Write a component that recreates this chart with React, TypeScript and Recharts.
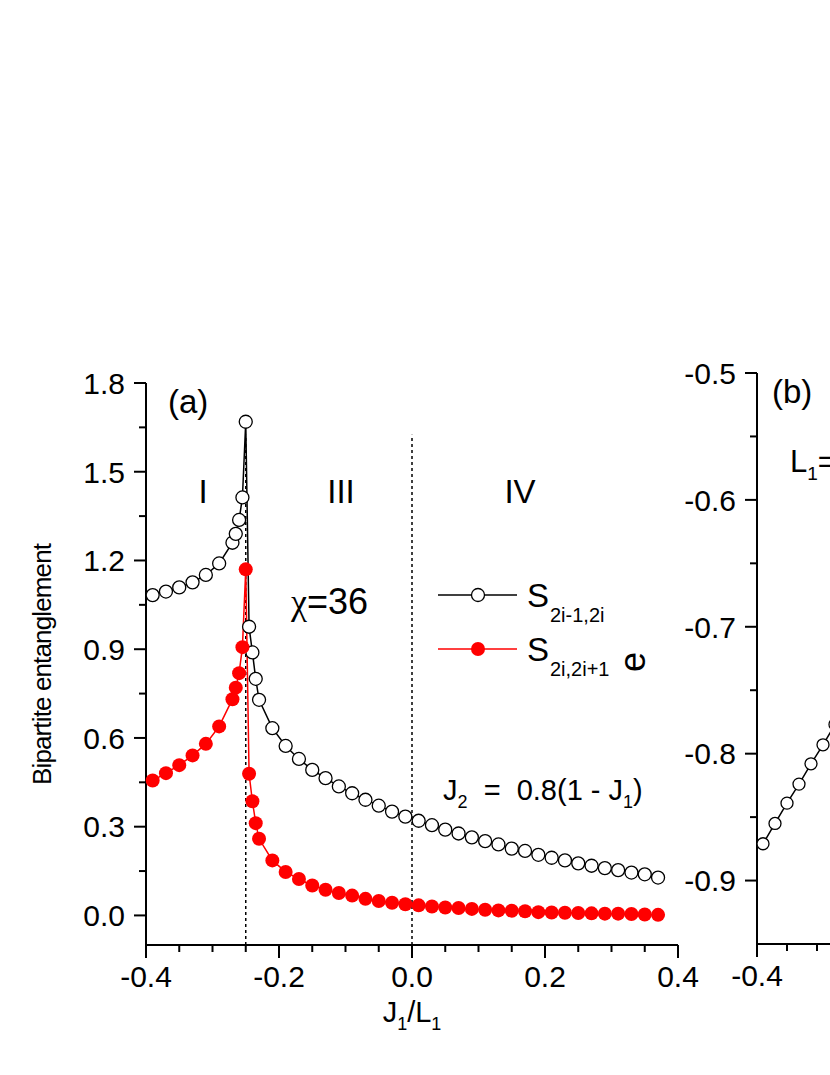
import React from "react";
import { LineChart, Line, XAxis, YAxis, ReferenceLine } from "recharts";

// panel (a): bipartite entanglement vs J1/L1
const jRatio = [
  -0.39, -0.37, -0.35, -0.33, -0.31, -0.29, -0.27, -0.265, -0.26, -0.255, -0.25,
  -0.245, -0.24, -0.235, -0.23, -0.21, -0.19, -0.17, -0.15, -0.13, -0.11, -0.09,
  -0.07, -0.05, -0.03, -0.01, 0.01, 0.03, 0.05, 0.07, 0.09, 0.11, 0.13, 0.15,
  0.17, 0.19, 0.21, 0.23, 0.25, 0.27, 0.29, 0.31, 0.33, 0.35, 0.37,
];
const sOdd = [
  1.083, 1.095, 1.109, 1.126, 1.151, 1.19, 1.26, 1.29, 1.337, 1.413, 1.669,
  0.976, 0.889, 0.8, 0.729, 0.633, 0.573, 0.529, 0.492, 0.464, 0.436, 0.413,
  0.391, 0.371, 0.351, 0.334, 0.32, 0.305, 0.29, 0.277, 0.264, 0.251, 0.24, 0.226,
  0.218, 0.205, 0.195, 0.186, 0.176, 0.168, 0.16, 0.153, 0.145, 0.139, 0.128,
];
const sEven = [
  0.456, 0.481, 0.508, 0.541, 0.58, 0.639, 0.731, 0.77, 0.819, 0.907, 1.17,
  0.479, 0.386, 0.312, 0.259, 0.186, 0.147, 0.123, 0.101, 0.087, 0.076, 0.067,
  0.056, 0.049, 0.043, 0.038, 0.034, 0.03, 0.027, 0.025, 0.022, 0.019, 0.017, 0.016,
  0.014, 0.011, 0.01, 0.009, 0.008, 0.007, 0.006, 0.006, 0.005, 0.003, 0.002,
];
const phaseBounds = [-0.25, 0];

const xTicks = [
  -0.4, -0.35, -0.3, -0.25, -0.2, -0.15, -0.1, -0.05, 0, 0.05, 0.1, 0.15, 0.2,
  0.25, 0.3, 0.35, 0.4,
];
const xMajor = [-0.4, -0.2, 0, 0.2, 0.4];
const yTicksA = [0, 0.15, 0.3, 0.45, 0.6, 0.75, 0.9, 1.05, 1.2, 1.35, 1.5, 1.65, 1.8];
const yMajorA = [0, 0.3, 0.6, 0.9, 1.2, 1.5, 1.8];

// panel (b): energy per site (only the left edge is visible)
const jRatioB = [-0.39, -0.37, -0.35, -0.33, -0.31, -0.29, -0.27];
const energyB = [-0.871, -0.855, -0.839, -0.824, -0.808, -0.793, -0.777];
const xTicksB = [-0.4, -0.35, -0.3, -0.25];
const yTicksB = [-0.9, -0.85, -0.8, -0.75, -0.7, -0.65, -0.6, -0.55, -0.5];
const yMajorB = [-0.9, -0.8, -0.7, -0.6, -0.5];

const FONT = "'Liberation Sans', Arial, sans-serif";

const isMajor = (v: number, majors: number[]) =>
  majors.some((m) => Math.abs(m - v) < 1e-6);

function BottomTick(props: any) {
  const { x, y, payload, majors } = props;
  const major = isMajor(payload.value, majors);
  return (
    <g>
      <line x1={x} x2={x} y1={y} y2={y + (major ? 13 : 7)} stroke="#000" strokeWidth={2} />
      {major && (
        <text x={x} y={y + 42} textAnchor="middle" fontSize={30} fontFamily={FONT} fill="#000">
          {payload.value.toFixed(1)}
        </text>
      )}
    </g>
  );
}

function LeftTick(props: any) {
  const { x, y, payload, majors } = props;
  const major = isMajor(payload.value, majors);
  return (
    <g>
      <line x1={x} x2={x - (major ? 12 : 7)} y1={y} y2={y} stroke="#000" strokeWidth={2} />
      {major && (
        <text x={x - 21} y={y} dy="0.36em" textAnchor="end" fontSize={30} fontFamily={FONT} fill="#000">
          {payload.value.toFixed(1)}
        </text>
      )}
    </g>
  );
}

export default function App() {
  const dataA = jRatio.map((x, i) => ({ x, odd: sOdd[i], even: sEven[i] }));
  const dataB = jRatioB.map((x, i) => ({ x, e: energyB[i] }));

  return (
    <div
      style={{
        position: "absolute",
        left: 0,
        top: 0,
        width: 830,
        height: 1075,
        overflow: "hidden",
        background: "#fff",
        fontFamily: FONT,
      }}
    >
      {/* panel (a) */}
      <div style={{ position: "absolute", left: 0, top: 0 }}>
        <LineChart
          width={700}
          height={1075}
          data={dataA}
          margin={{ top: 383, right: 22, bottom: 70, left: 46 }}
        >
          <XAxis
            dataKey="x"
            type="number"
            domain={[-0.4, 0.4]}
            ticks={xTicks}
            interval={0}
            height={60}
            tickSize={0}
            tickMargin={0}
            tickLine={false}
            axisLine={{ stroke: "#000", strokeWidth: 2 }}
            tick={<BottomTick majors={xMajor} />}
          />
          <YAxis
            type="number"
            domain={[-0.1, 1.8]}
            ticks={yTicksA}
            interval={0}
            width={100}
            tickSize={0}
            tickMargin={0}
            tickLine={false}
            axisLine={{ stroke: "#000", strokeWidth: 2 }}
            tick={<LeftTick majors={yMajorA} />}
          />
          {phaseBounds.map((b) => (
            <ReferenceLine
              key={b}
              segment={[{ x: b, y: -0.1 }, { x: b, y: 1.625 }]}
              stroke="#000"
              strokeWidth={1.5}
              strokeDasharray="3 3"
            />
          ))}
          <Line
            dataKey="odd"
            stroke="#000"
            strokeWidth={1.5}
            dot={{ r: 6.5, fill: "#fff", stroke: "#000", strokeWidth: 1.3 }}
            isAnimationActive={false}
          />
          <Line
            dataKey="even"
            stroke="#ff0000"
            strokeWidth={1.5}
            dot={{ r: 7, fill: "#ff0000", stroke: "#ff0000", strokeWidth: 0 }}
            isAnimationActive={false}
          />
        </LineChart>
      </div>

      {/* panel (b) */}
      <div style={{ position: "absolute", left: 650, top: 0 }}>
        <LineChart
          width={600}
          height={1075}
          data={dataB}
          margin={{ top: 373, right: 13, bottom: 71, left: 7 }}
        >
          <XAxis
            dataKey="x"
            type="number"
            domain={[-0.4, 0.4]}
            ticks={xTicksB}
            interval={0}
            height={60}
            tickSize={0}
            tickMargin={0}
            tickLine={false}
            axisLine={{ stroke: "#000", strokeWidth: 2 }}
            tick={<BottomTick majors={xMajor} />}
          />
          <YAxis
            type="number"
            domain={[-0.95, -0.5]}
            ticks={yTicksB}
            interval={0}
            width={100}
            tickSize={0}
            tickMargin={0}
            tickLine={false}
            axisLine={{ stroke: "#000", strokeWidth: 2 }}
            tick={<LeftTick majors={yMajorB} />}
          />
          <Line
            dataKey="e"
            stroke="#000"
            strokeWidth={1.5}
            dot={{ r: 6, fill: "#fff", stroke: "#000", strokeWidth: 1.3 }}
            isAnimationActive={false}
          />
        </LineChart>
      </div>

      {/* annotations */}
      <svg
        width={830}
        height={1075}
        style={{ position: "absolute", left: 0, top: 0, pointerEvents: "none" }}
        fontFamily={FONT}
        fill="#000"
      >
        <text x={168} y={413} fontSize={33}>(a)</text>
        <text x={772} y={403} fontSize={33}>(b)</text>
        <text x={203} y={503} fontSize={33} textAnchor="middle">I</text>
        <text x={341} y={503} fontSize={33} textAnchor="middle">III</text>
        <text x={520} y={503} fontSize={33} textAnchor="middle">IV</text>
        <text x={291} y={614} fontSize={36}>
          <tspan fontFamily="'Liberation Serif', serif">χ</tspan>=36
        </text>

        {/* legend */}
        <line x1={438} x2={517} y1={595} y2={595} stroke="#000" strokeWidth={1.5} />
        <circle cx={478} cy={595} r={6.5} fill="#fff" stroke="#000" strokeWidth={1.3} />
        <text x={527} y={607} fontSize={33}>S</text>
        <text x={550} y={622} fontSize={20}>2i-1,2i</text>
        <line x1={438} x2={517} y1={649} y2={649} stroke="#ff0000" strokeWidth={1.5} />
        <circle cx={478} cy={649} r={7} fill="#ff0000" />
        <text x={527} y={661} fontSize={33}>S</text>
        <text x={550} y={676} fontSize={20}>2i,2i+1</text>

        <text x={443} y={800} fontSize={29} style={{ whiteSpace: "pre" }}>
          J<tspan fontSize={18} dy={8}>2</tspan>
          <tspan dy={-8}>{"  =  0.8(1 - J"}</tspan>
          <tspan fontSize={18} dy={8}>1</tspan>
          <tspan dy={-8}>)</tspan>
        </text>

        <text
          transform="translate(42,664) rotate(-90)"
          textAnchor="middle"
          dy="0.36em"
          fontSize={26}
          textLength={242}
          lengthAdjust="spacing"
        >
          Bipartite entanglement
        </text>
        <text x={412} y={1022} fontSize={29} textAnchor="middle">
          J<tspan fontSize={18} dy={8}>1</tspan>
          <tspan dy={-8}>/L</tspan>
          <tspan fontSize={18} dy={8}>1</tspan>
        </text>

        <text transform="translate(634,662) rotate(-90)" textAnchor="middle" dy="0.3em" fontSize={36}>
          e
        </text>
        <text x={790} y={472} fontSize={31}>
          L<tspan fontSize={19} dy={8}>1</tspan>
          <tspan dy={-8}>=</tspan>
        </text>
      </svg>
    </div>
  );
}
